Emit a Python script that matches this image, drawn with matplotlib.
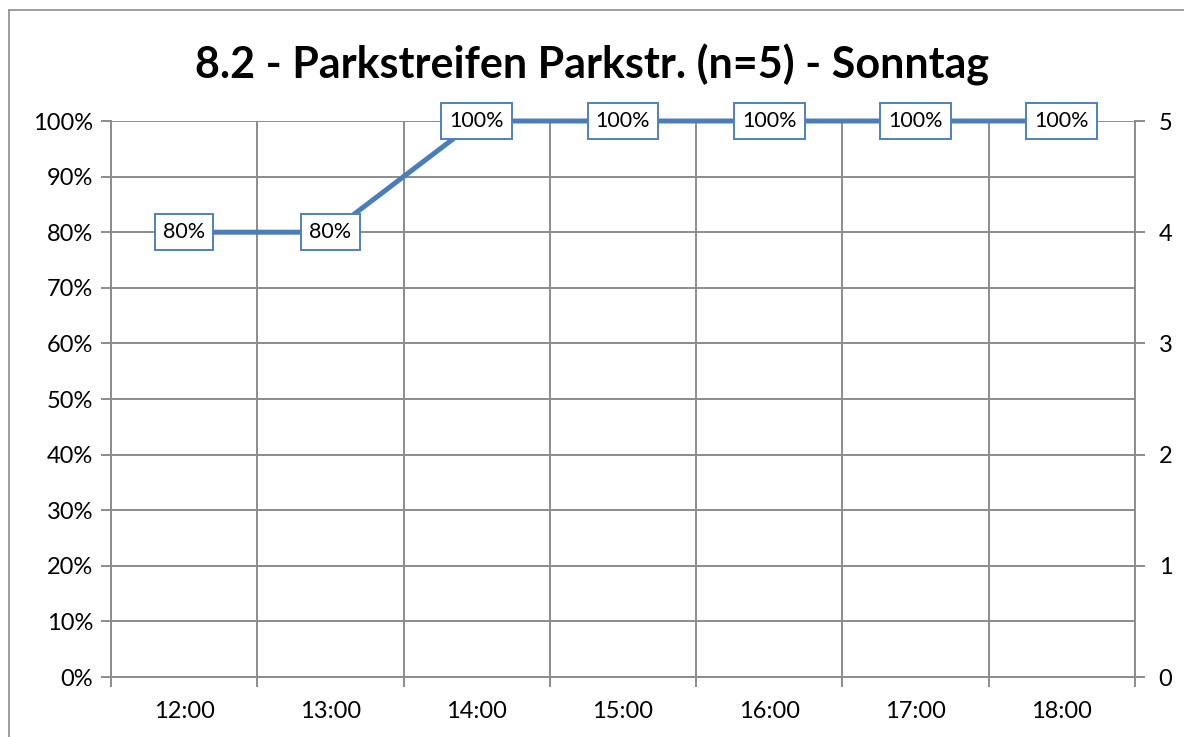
import matplotlib.pyplot as plt
from matplotlib.lines import Line2D
from matplotlib.ticker import FixedLocator

times = ['12:00', '13:00', '14:00', '15:00', '16:00', '17:00', '18:00']
occupancy = [80, 80, 100, 100, 100, 100, 100]
spaces = 5

plt.rcParams['font.family'] = ['Lato', 'DejaVu Sans']
grey = '#8c8c8c'

fig = plt.figure(figsize=(11.84, 7.37), dpi=100)
ax = fig.add_axes([111 / 1184, 1 - 677 / 737, (1135 - 111) / 1184, (677 - 121) / 737])

# outer chart border (only left and top edges fall inside the image)
bx, by = 9 / 1184, 1 - 10 / 737
fig.add_artist(Line2D([bx, bx], [0, by], transform=fig.transFigure, color=grey, linewidth=1.2))
fig.add_artist(Line2D([bx, 1], [by, by], transform=fig.transFigure, color=grey, linewidth=1.2))

x = list(range(len(times)))
ax.plot(x, occupancy, color='#4a7ebb', linewidth=3.6, zorder=3, clip_on=False)
for xi, v in zip(x, occupancy):
    ax.text(xi, v, f'{v}%', ha='center', va='center', fontsize=15.5, zorder=4,
            bbox=dict(boxstyle='square,pad=0.38', facecolor='white', edgecolor='#4f81bd', linewidth=1.4))

ax.set_xlim(-0.5, len(times) - 0.5)
ax.set_ylim(0, 100)
ax.set_yticks(range(0, 101, 10))
ax.set_yticklabels([f'{v}%' for v in range(0, 101, 10)], fontsize=17)
ax.set_xticks(x)
ax.set_xticklabels(times, fontsize=17)
ax.xaxis.set_minor_locator(FixedLocator([i - 0.5 for i in range(len(times) + 1)]))
ax.tick_params(axis='x', which='major', length=0, pad=17)
ax.tick_params(axis='x', which='minor', length=7, color=grey, width=1.4)
ax.tick_params(axis='y', length=7, color=grey, width=1.4, pad=6)
ax.grid(True, axis='y', color=grey, linewidth=1.4)
ax.grid(True, axis='x', which='minor', color=grey, linewidth=1.4)
for s in ax.spines.values():
    s.set_visible(False)
for side in ('left', 'bottom'):
    ax.spines[side].set_visible(True)
    ax.spines[side].set_color(grey)
    ax.spines[side].set_linewidth(1.4)

ax2 = ax.twinx()
ax2.set_ylim(0, spaces)
ax2.set_yticks(range(0, spaces + 1))
ax2.tick_params(axis='y', length=7, color=grey, width=1.4, labelsize=17, pad=10)
for s in ax2.spines.values():
    s.set_visible(False)
ax2.spines['right'].set_visible(True)
ax2.spines['right'].set_color(grey)
ax2.spines['right'].set_linewidth(1.4)

fig.suptitle('8.2 - Parkstreifen Parkstr. (n=5) - Sonntag', fontsize=31, fontweight='bold', y=0.94)

fig.savefig('out.png', dpi=100)
